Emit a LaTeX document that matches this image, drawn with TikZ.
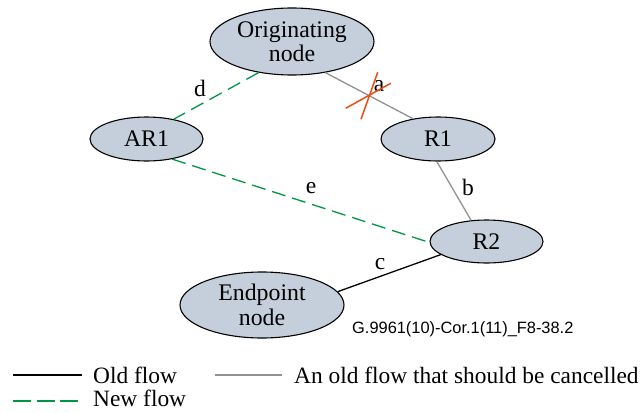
\documentclass[tikz,border=0pt]{standalone}
\usepackage{fontspec}
\setmainfont{Liberation Serif}
\newfontfamily\labelsans{Liberation Sans}
\usetikzlibrary{shapes.geometric}
\definecolor{nodefill}{RGB}{196,207,219}
\definecolor{newgreen}{RGB}{0,150,70}
\definecolor{oldgray}{RGB}{145,145,145}
\definecolor{crossred}{RGB}{235,75,20}
\tikzset{
  flownode/.style={ellipse, draw=black, line width=1.1pt, fill=nodefill, inner sep=0pt,
    align=center, font=\fontsize{23.8}{24.5}\selectfont},
  newflow/.style={draw=newgreen, line width=1.3pt, dash pattern=on 14pt off 7pt},
  cancelflow/.style={draw=oldgray, line width=1.3pt},
  oldflow/.style={draw=black, line width=1.3pt},
  crossline/.style={draw=crossred, line width=1.5pt},
  lbl/.style={font=\fontsize{23.5}{24}\selectfont, inner sep=0pt},
  legtext/.style={font=\fontsize{23.4}{24}\selectfont, inner sep=0pt, anchor=base west}
}
\begin{document}
\begin{tikzpicture}[x=1pt,y=-1pt]
\useasboundingbox (0,0) rectangle (644,412);
\node[flownode, minimum width=164pt, minimum height=67pt] (orig) at (292,41.5) {Originating\\node};
\node[flownode, minimum width=113pt, minimum height=44pt] (ar1) at (146.5,139) {AR1};
\node[flownode, minimum width=114pt, minimum height=44pt] (r1) at (438,139) {R1};
\node[flownode, minimum width=113pt, minimum height=43pt] (r2) at (486.5,241.5) {R2};
\node[flownode, minimum width=164pt, minimum height=66pt] (ep) at (262,305) {Endpoint\\node};

\draw[newflow] (orig.223) -- (ar1.36);
\draw[cancelflow] (orig.317) -- (r1.141);
\draw[cancelflow] (r1.267) -- (r2.126);
\draw[newflow] (ar1.322) -- (r2.181);
\draw[oldflow] (ep.10) -- (r2.196);

\node[lbl] (la) at (379,86) {a};
\node[lbl] (lb) at (468,187) {b};
\node[lbl] (lc) at (380,264) {c};
\node[lbl] (ld) at (200,88) {d};
\node[lbl] (le) at (311,188) {e};

\draw[crossline] (345.7,108.3) -- (390.7,83.3);
\draw[crossline] (361,119.3) -- (377.7,72.3);

\node[font=\labelsans\fontsize{16.4}{17}\selectfont, anchor=west, inner sep=0pt] (fig) at (352,329) {G.9961(10)-Cor.1(11)\_F8-38.2};

\coordinate (l1a) at (13,375);
\coordinate (l1b) at (82,375);
\draw[oldflow] (l1a) -- (l1b);
\node[legtext] (t1) at (93,383) {Old flow};
\coordinate (l2a) at (215,375);
\coordinate (l2b) at (282,375);
\draw[cancelflow] (l2a) -- (l2b);
\node[legtext] (t2) at (294,383) {An old flow that should be cancelled};
\coordinate (l3a) at (13,401);
\coordinate (l3b) at (79,401);
\draw[draw=newgreen, line width=1.3pt, dash pattern=on 18pt off 5.5pt] (l3a) -- (l3b);
\node[legtext] (t3) at (93,406) {New flow};
\end{tikzpicture}
\end{document}
